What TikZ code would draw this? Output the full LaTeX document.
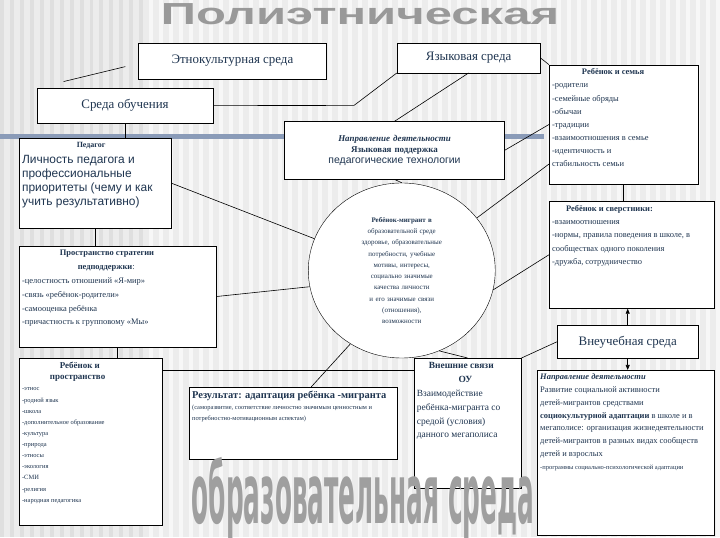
\documentclass[tikz,border=0pt]{standalone}
\usepackage{fontspec}
\setmainfont{Liberation Serif}
\newfontfamily\sansf{Liberation Sans}
\newfontfamily\djv{DejaVu Sans}
\usetikzlibrary{arrows.meta,shapes.geometric}
\definecolor{txt}{HTML}{1F3550}
\definecolor{bg}{HTML}{ECECEC}
\definecolor{band}{HTML}{8A9BB8}
\newcommand\tb[3]{\parbox[t][#1][t]{#2}{\raggedright #3}}
\tikzset{
  bx/.style={draw=black, fill=white, anchor=north west, inner xsep=3pt, inner ysep=4pt, text=txt, font=\fontsize{8}{10}\selectfont, align=left},
  big/.style={bx, align=center, font=\fontsize{13}{15}\selectfont},
  ln/.style={draw=black, line width=0.6pt},
}
\begin{document}
\begin{tikzpicture}[x=1pt,y=-1pt]
\fill[bg] (0,0) rectangle (720,540);
\foreach \i in {0,10,...,720} {\fill[white!60!bg] (\i,0) rectangle ++(4,540);}
\foreach \i in {0,10,...,140} {\fill[gray!25] (\i,0) rectangle ++(4,540);}
\useasboundingbox (0,0) rectangle (720,540);
\fill[band] (0,135) rectangle (547,140);
\node[text=gray!80, font=\sansf\bfseries\fontsize{34}{34}\selectfont] (t1) at (362,14) {\scalebox{1.45}[0.9]{Полиэтническая}};
\node[big, minimum width=189pt, minimum height=36pt] (ethno) at (139,43) {Этнокультурная среда};
\node[big, minimum width=144pt, minimum height=30pt] (lang) at (399,43) {Языковая среда};
\node[big, minimum width=177pt, minimum height=36pt] (learn) at (37,88) {Среда обучения};
\node[bx, font=\fontsize{8.5}{13.2}\selectfont] (fam) at (552,65) {\tb{112pt}{144pt}{\hspace*{30pt}\textbf{Ребёнок и семья}\\
-родители\\ -семейные обряды\\ -обычаи\\ -традиции\\ -взаимоотношения в семье\\ -идентичность и\\ стабильность семьи}};
\node[bx, text width=215pt, minimum height=58pt, align=center, font=\fontsize{9}{11}\selectfont] (napr) at (286,122) {\textit{\textbf{Направление деятельности}}\\ \textbf{Языковая поддержка}\\ {\sansf\fontsize{10.5}{12}\selectfont педагогические технологии}};
\node[bx, font=\sansf\fontsize{12}{14}\selectfont] (ped) at (19,139) {\tb{82pt}{147pt}{\hspace*{55pt}{\rmfamily\fontsize{8}{10}\selectfont\textbf{Педагог}}\\[2pt] Личность педагога и профессиональные приоритеты (чему и как учить результативно)}};
\node[draw=black, fill=white, ellipse, minimum width=188pt, minimum height=176pt, inner sep=0pt] (child) at (404,272) {};
\node[text=txt, align=center, font=\fontsize{7}{11.3}\selectfont, text width=120pt] (childtxt) at (404,272) {\textbf{Ребёнок-мигрант в}\\ образовательной среде\\ здоровье, образовательные\\ потребности, учебные\\ мотивы, интересы,\\ социально значимые\\ качества личности\\ и его значимые связи\\ (отношения),\\ возможности};
\node[bx, font=\fontsize{8.5}{14}\selectfont] (prost) at (19,247) {\tb{94pt}{192pt}{\hspace*{38pt}\textbf{Пространство стратегии}\\ \hspace*{56pt}\textbf{педподдержки}:\\ -целостность отношений «Я-мир»\\ -связь «ребёнок-родители»\\ -самооценка ребёнка\\ -причастность к групповому «Мы»}};
\node[bx, font=\fontsize{8.5}{13.5}\selectfont] (peer) at (552,202) {\tb{100pt}{160pt}{\hspace*{14pt}\textbf{Ребёнок и сверстники:}\\ -взаимоотношения\\ -нормы, правила поведения в школе, в сообществах одного поколения\\ -дружба, сотрудничество}};
\node[big, minimum width=142pt, minimum height=33pt] (vne) at (560,327) {Внеучебная среда};
\node[bx, font=\fontsize{6.5}{11.2}\selectfont] (space) at (19,360) {\tb{160pt}{138pt}{{\fontsize{9}{13}\selectfont\hspace*{38pt}\textbf{Ребёнок и}\\ \hspace*{28pt}\textbf{пространство}}\\ -этнос\\ -родной язык\\ -школа\\ -дополнительное образование\\ -культура\\ -природа\\ -этносы\\ -экология\\ -СМИ\\ -религия\\ -народная педагогика}};
\node[bx, font=\fontsize{6.5}{11}\selectfont] (res) at (190,389) {\tb{65pt}{203pt}{{\fontsize{10.5}{14}\selectfont\textbf{Результат: адаптация ребёнка -мигранта}} (саморазвитие, соответствие личностно значимым ценностным и потребностно-мотивационным аспектам)}};
\node[bx, font=\fontsize{9.5}{14}\selectfont] (ext) at (416,360) {\tb{123pt}{102pt}{\hspace*{12pt}\textbf{Внешние связи}\\ \hspace*{42pt}\textbf{ОУ}\\ Взаимодействие ребёнка-мигранта со средой (условия) данного мегаполиса}};
\node[bx, font=\fontsize{8.5}{12.8}\selectfont] (dir) at (540,372) {\tb{158pt}{172pt}{\textit{\textbf{Направление деятельности}}\\ Развитие социальной активности детей-мигрантов средствами \textbf{социокультурной адаптации} в школе и в мегаполисе: организация жизнедеятельности детей-мигрантов в разных видах сообществ детей и взрослых\\ {\fontsize{6.5}{8}\selectfont -программы социально-психологической адаптации}}};
\node[text=gray!75, font=\djv\bfseries\fontsize{48}{48}\selectfont] (t2) at (365,502) {\scalebox{0.52}[1.75]{образовательная среда}};
\coordinate (f1) at (64,82);
\coordinate (f2) at (126,67);
\draw[ln] (f1) -- (f2);
\coordinate (b1) at (356,106);
\draw[ln] (learn.east) -- (b1) -- (lang.south west);
\draw[ln] (lang.east) -- (fam.north west);
\draw[ln] (lang.south) -- (napr.north);
\draw[ln] (napr.east) -- (fam.west);
\draw[ln] (learn.south) -- (learn.south |- ped.north);
\draw[ln] (ped.south) -- (ped.south |- prost.north);
\draw[ln] (prost.south) -- (prost.south |- space.north);
\draw[ln] (napr.south) -- (child.north);
\draw[ln] (ped.east) -- (child.160);
\draw[ln] (prost.east) -- (child.190);
\coordinate (fa) at (552,165);
\draw[ln] (fa) -- (child.35);
\draw[ln] (fam.south) -- (fam.south |- peer.north);
\draw[ln] (child.-12) -- (peer.west);
\draw[ln,-{Triangle[length=5pt,width=4pt]}] (vne.north) -- (vne.north |- peer.south);
\draw[ln,-{Triangle[length=5pt,width=4pt]}] (vne.south) -- (vne.south |- dir.north);
\draw[ln] (vne.west) -- (ext.north east);
\coordinate (h1) at (163,372);
\coordinate (h2) at (416,372);
\draw[ln] (h1) -- (h2);
\coordinate (ra) at (313,389);
\draw[ln] (ra) -- (child.235);
\draw[ln] (child.-65) -- (ext.north);
\end{tikzpicture}
\end{document}
